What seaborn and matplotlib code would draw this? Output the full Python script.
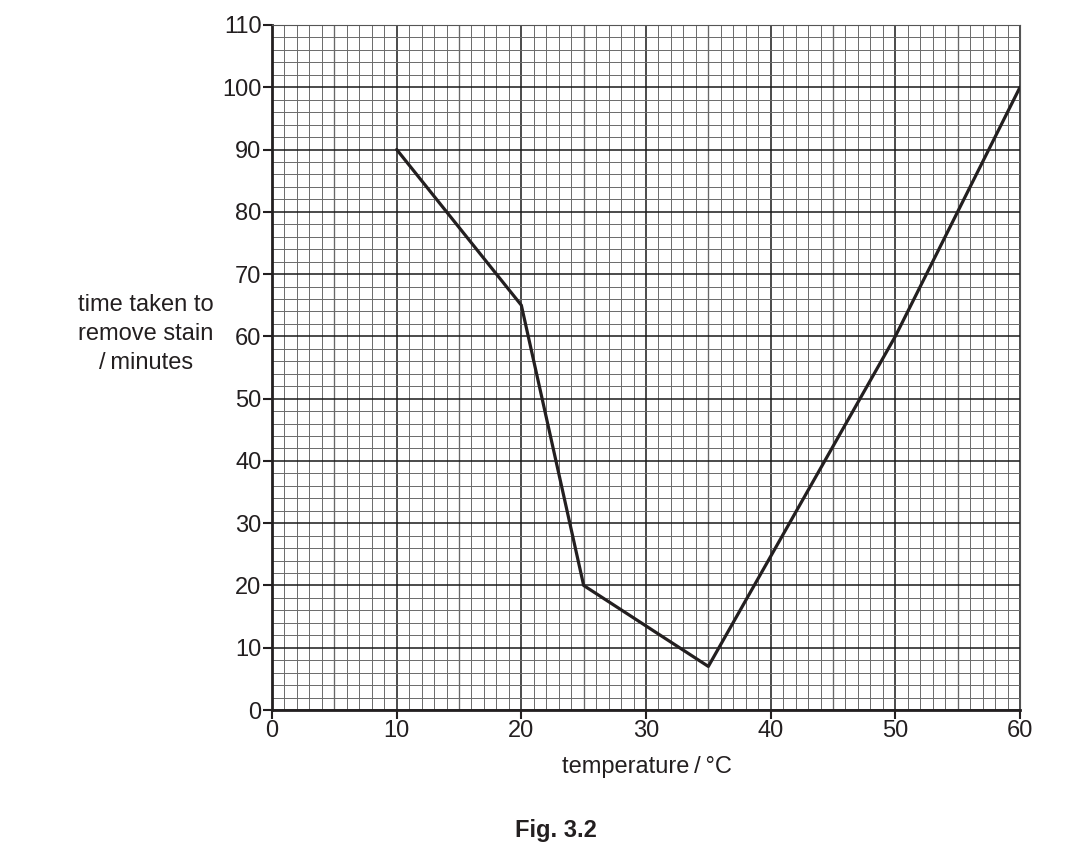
import matplotlib
matplotlib.use('Agg')
import matplotlib.pyplot as plt
import pandas as pd
import seaborn as sns
from matplotlib.ticker import MultipleLocator

# data
temperature = [10, 20, 25, 35, 50, 60]
time_taken = [90, 65, 20, 7, 60, 100]
x_ticks = [0, 10, 20, 30, 40, 50, 60]
y_ticks = [0, 10, 20, 30, 40, 50, 60, 70, 80, 90, 100, 110]

df = pd.DataFrame({'temperature': temperature, 'time': time_taken})

sns.set_style('ticks')
plt.rcParams['font.family'] = ['Liberation Sans', 'DejaVu Sans']

fig = plt.figure(figsize=(10.79, 8.49), dpi=100)
ax = fig.add_axes([0.2521, 0.1637, 0.6932, 0.8069])

ax.set_xlim(0, 60)
ax.set_ylim(0, 110)
ax.set_xticks(x_ticks)
ax.set_yticks(y_ticks)
ax.xaxis.set_minor_locator(MultipleLocator(1))
ax.yaxis.set_minor_locator(MultipleLocator(2))

# graph paper
ax.grid(which='minor', color='#6a6a6a', linewidth=0.7)
ax.grid(which='major', color='#1a1a1a', linewidth=1.1)
for v in range(5, 60, 10):
    ax.axvline(v, color='#333333', linewidth=0.9, zorder=0.5)
ax.set_axisbelow(True)

sns.lineplot(data=df, x='temperature', y='time', color='#231f20',
             linewidth=2.3, ax=ax, zorder=3)

for s in ['top', 'right']:
    ax.spines[s].set_color('#555555')
    ax.spines[s].set_linewidth(0.8)
for s in ['left', 'bottom']:
    ax.spines[s].set_color('#231f20')
    ax.spines[s].set_linewidth(2.0)

ax.tick_params(which='major', direction='out', length=6.5, width=1.5,
               color='#231f20', labelsize=17, labelcolor='#231f20', pad=1)
ax.tick_params(which='minor', length=0)

ax.set_xlabel('')
ax.set_ylabel('')
fig.text(647 / 1079, 1 - 767 / 849, 'temperature\u2009/\u2009°C', ha='center', va='center',
         fontsize=17, color='#231f20')
fig.text(146 / 1079, 1 - 334 / 849, 'time taken to\nremove stain\n/\u2009minutes',
         ha='center', va='center', fontsize=17, color='#231f20',
         multialignment='center', linespacing=1.4)
fig.text(556 / 1079, 1 - 830 / 849, 'Fig. 3.2', ha='center', va='center',
         fontsize=17, fontweight='bold', color='#231f20')

fig.savefig('out.png', dpi=100)
